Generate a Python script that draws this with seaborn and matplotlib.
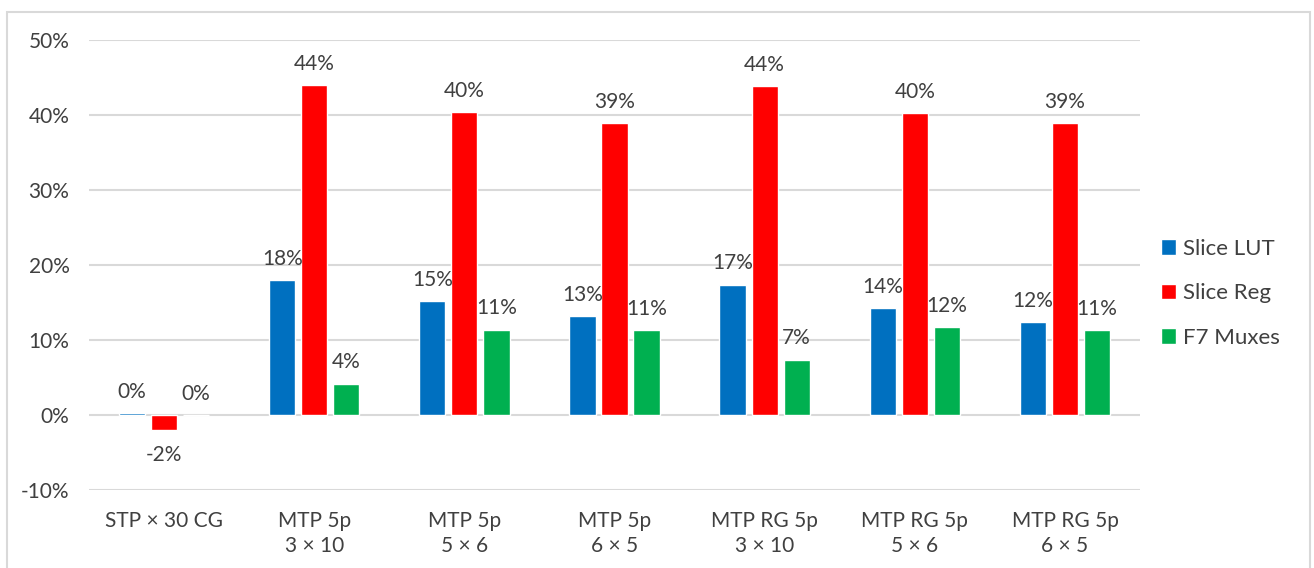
import matplotlib
matplotlib.use("Agg")
import matplotlib.pyplot as plt
from matplotlib.ticker import FuncFormatter, MultipleLocator
from matplotlib.patches import Rectangle
import pandas as pd
import seaborn as sns

# Resource change per configuration (percent)
configs = ["STP \u00d7 30 CG", "MTP 5p\n3 \u00d7 10", "MTP 5p\n5 \u00d7 6", "MTP 5p\n6 \u00d7 5",
           "MTP RG 5p\n3 \u00d7 10", "MTP RG 5p\n5 \u00d7 6", "MTP RG 5p\n6 \u00d7 5"]
slice_lut = [0.3, 18.0, 15.2, 13.2, 17.4, 14.3, 12.4]
slice_reg = [-2.0, 44.0, 40.4, 38.9, 43.8, 40.3, 38.9]
f7_muxes = [0.0, 4.2, 11.4, 11.3, 7.4, 11.7, 11.3]
series = ["Slice LUT", "Slice Reg", "F7 Muxes"]
colors = ["#0070C0", "#FF0000", "#00B050"]

df = pd.DataFrame({
    "config": configs * 3,
    "series": [s for s in series for _ in configs],
    "value": slice_lut + slice_reg + f7_muxes,
})

sns.set_theme(style="white")
plt.rcParams["font.family"] = ["Lato", "DejaVu Sans"]
text_color = "#404040"
fs = 15

fig = plt.figure(figsize=(13.14, 5.68), dpi=100)
ax = fig.add_axes([0.0677, 0.1373, 0.7999, 0.7923])

sns.barplot(data=df, x="config", y="value", hue="series", order=configs,
            hue_order=series, palette=colors, errorbar=None, width=0.64, gap=0.18,
            saturation=1, ax=ax, legend=True)

# Value labels: above positive bars, below negative ones
for cont in ax.containers:
    for bar, v in zip(cont, cont.datavalues):
        x = bar.get_x() + bar.get_width() / 2
        if v >= 0:
            ax.annotate(f"{v:.0f}%", (x, v), xytext=(0, 8), textcoords="offset points",
                        ha="center", va="bottom", fontsize=fs, color=text_color)
        else:
            ax.annotate(f"{v:.0f}%", (x, v), xytext=(0, -11), textcoords="offset points",
                        ha="center", va="top", fontsize=fs, color=text_color)

ax.set_ylim(-10, 50)
ax.set_xlim(-0.5, len(configs) - 0.5)
ax.yaxis.set_major_locator(MultipleLocator(10))
ax.yaxis.set_major_formatter(FuncFormatter(lambda v, _: f"{v:.0f}%"))
ax.grid(axis="y", color="#D9D9D9", linewidth=1.5)
ax.set_axisbelow(True)
for s in ax.spines.values():
    s.set_visible(False)
ax.set_xlabel("")
ax.set_ylabel("")
ax.tick_params(axis="both", length=0, labelsize=fs, colors=text_color)
ax.tick_params(axis="x", pad=15)
ax.tick_params(axis="y", pad=14)
for lab in ax.get_xticklabels():
    lab.set_linespacing(1.35)

handles, labels = ax.get_legend_handles_labels()
ax.get_legend().remove()
fig.legend(handles, labels, loc="center left", bbox_to_anchor=(0.868, 0.484),
           frameon=False, fontsize=16, labelcolor=text_color, handlelength=0.7,
           handleheight=0.7, handletextpad=0.3, labelspacing=1.1)

# Chart frame
fig.patches.append(Rectangle((7 / 1314, -0.05), 1303 / 1314, 1 - 12 / 568 + 0.05,
                             transform=fig.transFigure, fill=False,
                             edgecolor="#D9D9D9", linewidth=1.5))

fig.savefig("out.png", dpi=100, facecolor="white")
